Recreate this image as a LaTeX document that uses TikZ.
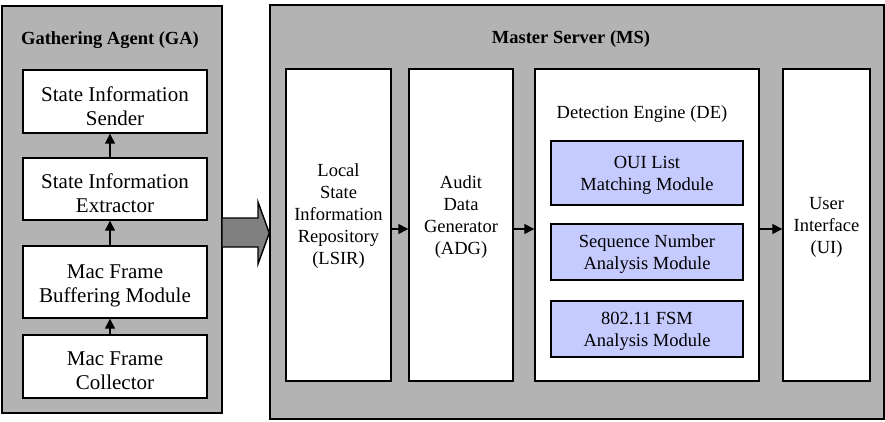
\documentclass[tikz,border=0pt]{standalone}
\usepackage{fontspec}
\setmainfont{Liberation Serif}
\newfontfamily\timesfont{Liberation Serif}
\usetikzlibrary{arrows.meta}
\definecolor{panelgray}{RGB}{179,179,179}
\definecolor{arrowgray}{RGB}{128,128,128}
\definecolor{modblue}{RGB}{198,203,255}
\tikzset{
  panel/.style={draw=black, line width=1.4pt, fill=panelgray, inner sep=0pt},
  block/.style={draw=black, line width=1.4pt, fill=white, inner sep=0pt},
  module/.style={draw=black, line width=1.4pt, fill=modblue, inner sep=0pt},
  bigtxt/.style={align=center, font=\timesfont\fontsize{21}{24}\selectfont},
  txt/.style={align=center, font=\timesfont\fontsize{18.5}{22}\selectfont},
  titletxt/.style={font=\timesfont\fontsize{18.5}{22}\selectfont\bfseries},
  link/.style={line width=1.4pt, -{Triangle[length=10pt,width=10pt]}, shorten <=-0.7pt},
  bigarrow/.style={draw=black, line width=1.4pt, fill=arrowgray, line join=miter}
}
\begin{document}
\begin{tikzpicture}[x=1pt,y=-1pt]
\useasboundingbox (0,0) rectangle (885,422);

% Gathering Agent panel
\node[panel, minimum width=220pt, minimum height=407pt] (ga) at (112,209.5) {};
\node[titletxt] (gatitle) at (110,40) {Gathering Agent (GA)};
\node[block, minimum width=184pt, minimum height=63pt] (sender) at (115,101.5) {};
\node[block, minimum width=184pt, minimum height=62pt] (extract) at (115,189) {};
\node[block, minimum width=184pt, minimum height=72pt] (buffer) at (115,282) {};
\node[block, minimum width=184pt, minimum height=63pt] (collect) at (115,366.5) {};
\node[bigtxt] (sendert) at (115,106) {State Information\\Sender};
\node[bigtxt] (extractt) at (115,193) {State Information\\Extractor};
\node[bigtxt] (buffert) at (115,286) {Mac Frame\\Buffering Module};
\node[bigtxt] (collectt) at (115,371) {Mac Frame\\Collector};

\draw[link] (collect.north -| 110,0) -- (buffer.south -| 110,0);
\draw[link] (buffer.north -| 110,0) -- (extract.south -| 110,0);
\draw[link] (extract.north -| 110,0) -- (sender.south -| 110,0);

% Master Server panel
\node[panel, minimum width=614pt, minimum height=414pt] (ms) at (577,212) {};
\node[titletxt] (mstitle) at (571,39) {Master Server (MS)};
\node[block, minimum width=105pt, minimum height=312pt] (lsir) at (338.5,225) {};
\node[block, minimum width=104pt, minimum height=312pt] (adg) at (461,225) {};
\node[block, minimum width=224pt, minimum height=312pt] (de) at (647,225) {};
\node[block, minimum width=87pt, minimum height=312pt] (ui) at (826.5,225) {};
\node[txt] (lsirt) at (338.5,216) {Local\\State\\Information\\Repository\\(LSIR)};
\node[txt] (adgt) at (461,217) {Audit\\Data\\Generator\\(ADG)};
\node[txt] (uit) at (826.5,227) {User\\Interface\\(UI)};
\node[txt] (detitle) at (642,114) {Detection Engine (DE)};
\node[module, minimum width=192pt, minimum height=64pt] (oui) at (647,173) {};
\node[module, minimum width=192pt, minimum height=56pt] (seq) at (647,252) {};
\node[module, minimum width=192pt, minimum height=56pt] (fsm) at (647,329) {};
\node[txt] (ouit) at (647,175) {OUI List\\Matching Module};
\node[txt] (seqt) at (647,254) {Sequence Number\\Analysis Module};
\node[txt] (fsmt) at (647,331) {802.11 FSM\\Analysis Module};

\draw[link] (lsir.east |- 0,229) -- (adg.west |- 0,229);
\draw[link] (adg.east |- 0,229) -- (de.west |- 0,229);
\draw[link] (de.east |- 0,229) -- (ui.west |- 0,229);

% Transfer arrow from the agent to the server
\draw[bigarrow] (ga.east |- 0,218) -- (258,218) -- (258,202) -- (ms.west |- 0,233)
  -- (258,264) -- (258,247) -- (ga.east |- 0,247);
\end{tikzpicture}
\end{document}
